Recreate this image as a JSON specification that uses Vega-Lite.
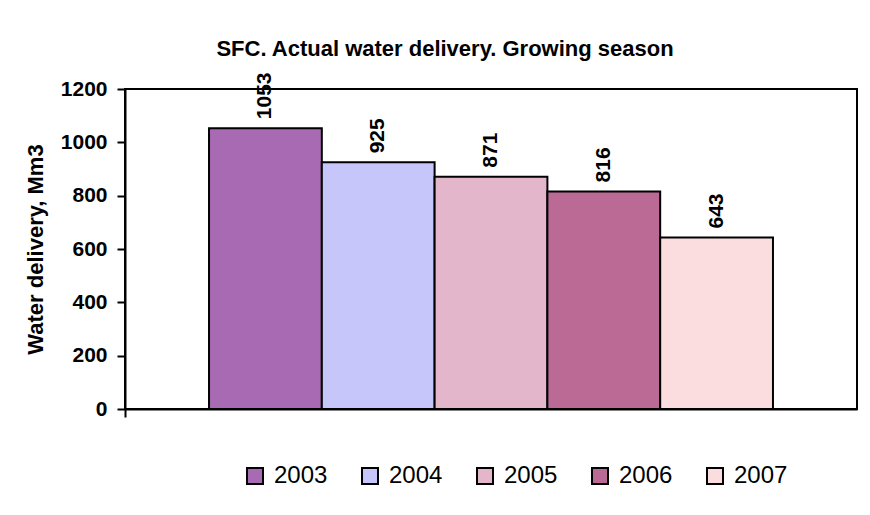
{
  "$schema": "https://vega.github.io/schema/vega-lite/v6.json",
  "autosize": {"type": "none"},
  "padding": {"left": 125, "top": 89, "right": 13, "bottom": 106},
  "width": 732,
  "height": 320,
  "background": "white",
  "title": {
    "text": "SFC. Actual water delivery. Growing season",
    "font": "Liberation Sans",
    "fontSize": 22,
    "fontWeight": "bold",
    "color": "black",
    "anchor": "middle",
    "dx": -46,
    "offset": 11
  },
  "data": {
    "values": [
      {"season": "Growing season", "year": "2003", "delivery": 1053},
      {"season": "Growing season", "year": "2004", "delivery": 925},
      {"season": "Growing season", "year": "2005", "delivery": 871},
      {"season": "Growing season", "year": "2006", "delivery": 816},
      {"season": "Growing season", "year": "2007", "delivery": 643}
    ]
  },
  "encoding": {
    "x": {
      "field": "season",
      "type": "nominal",
      "scale": {"paddingInner": 0, "paddingOuter": 0},
      "axis": {
        "title": null,
        "labels": false,
        "ticks": true,
        "bandPosition": 0,
        "tickSize": 8,
        "tickWidth": 2,
        "tickColor": "black",
        "domainColor": "black",
        "domainWidth": 2
      }
    },
    "xOffset": {
      "field": "year",
      "type": "nominal",
      "scale": {"paddingInner": 0, "paddingOuter": 0.745}
    },
    "y": {
      "field": "delivery",
      "type": "quantitative",
      "scale": {"domain": [0, 1200], "nice": false},
      "axis": {
        "values": [0, 200, 400, 600, 800, 1000, 1200],
        "format": "d",
        "title": "Water delivery, Mm3",
        "titleFont": "Liberation Sans",
        "titleFontSize": 22,
        "titleFontWeight": "bold",
        "titleColor": "black",
        "titlePadding": 13,
        "labelFont": "Liberation Sans",
        "labelFontSize": 21,
        "labelFontWeight": "bold",
        "labelColor": "black",
        "labelPadding": 10,
        "tickSize": 8,
        "tickWidth": 2,
        "tickColor": "black",
        "domainColor": "black",
        "domainWidth": 2,
        "grid": false
      }
    }
  },
  "layer": [
    {
      "mark": {"type": "bar", "stroke": "black", "strokeWidth": 2, "opacity": 1},
      "encoding": {
        "color": {
          "field": "year",
          "type": "nominal",
          "scale": {
            "domain": ["2003", "2004", "2005", "2006", "2007"],
            "range": ["#A86AB2", "#C6C6FA", "#E4B6CC", "#BA6A94", "#FBDDE0"]
          },
          "legend": {
            "orient": "none",
            "legendX": 118,
            "legendY": 375,
            "direction": "horizontal",
            "columns": 5,
            "title": null,
            "symbolType": "square",
            "symbolSize": 256,
            "symbolStrokeColor": "black",
            "symbolStrokeWidth": 2,
            "symbolOpacity": 1,
            "labelFont": "Liberation Sans",
            "labelFontSize": 24,
            "labelColor": "black",
            "labelOffset": 7,
            "columnPadding": 30
          }
        }
      }
    },
    {
      "mark": {
        "type": "text",
        "angle": -90,
        "align": "left",
        "baseline": "middle",
        "dx": 9,
        "font": "Liberation Sans",
        "fontSize": 21,
        "fontWeight": "bold",
        "color": "black"
      },
      "encoding": {"text": {"field": "delivery", "type": "quantitative"}}
    }
  ],
  "config": {
    "view": {"stroke": "black", "strokeWidth": 2},
    "axis": {"grid": false}
  }
}
